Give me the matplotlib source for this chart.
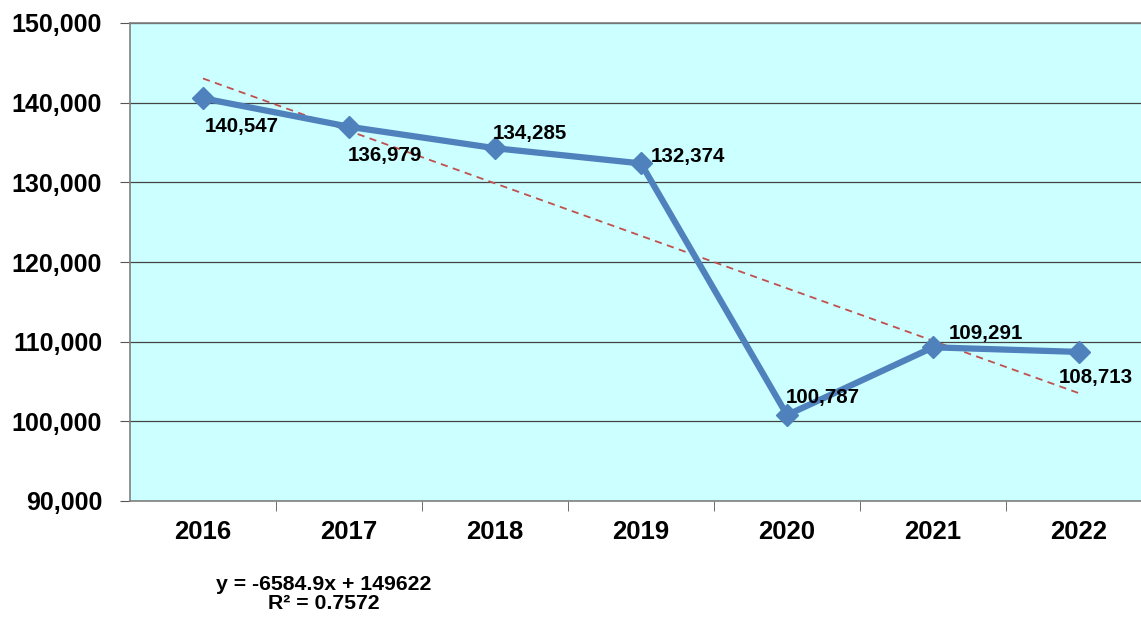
import numpy as np
import matplotlib.pyplot as plt
from matplotlib.ticker import FuncFormatter, FixedLocator

plt.rcParams['font.family'] = ['Liberation Sans', 'DejaVu Sans']

years = ['2016', '2017', '2018', '2019', '2020', '2021', '2022']
values = [140547, 136979, 134285, 132374, 100787, 109291, 108713]
# label offsets in pixels (dx, dy) from each point
label_offsets = [(2, -28), (-1, -29), (-2, 15), (10, 7), (-1, 18), (16, 14), (-20, -26)]
slope = -6584.9
intercept = 149622
r2 = 0.7572

x = np.arange(len(years))

fig = plt.figure(figsize=(11.41, 6.19), dpi=100)
ax = fig.add_axes([130 / 1141, 1 - 501 / 619, 1022 / 1141, (501 - 23) / 619])
ax.set_facecolor('#ccffff')

ax.set_xlim(-0.5, len(years) - 0.5)
ax.set_ylim(90000, 150000)
ax.yaxis.set_major_locator(FixedLocator(np.arange(90000, 150001, 10000)))
ax.yaxis.set_major_formatter(FuncFormatter(lambda v, p: f'{int(v):,}'))
ax.grid(axis='y', color='#444444', linewidth=0.9)
ax.set_axisbelow(True)

# trendline
tx = np.array([0, len(years) - 1])
ty = slope * (tx + 1) + intercept
ax.plot(tx, ty, color='#c0504d', linestyle=(0, (4, 3)), linewidth=1.3, zorder=2)

ax.plot(x, values, color='#4f81bd', linewidth=4.5, marker='D', markersize=11, zorder=3)

for xi, v, (dx, dy) in zip(x, values, label_offsets):
    ax.annotate(f'{v:,}', (xi, v), xytext=(dx, dy), textcoords='offset pixels',
                ha='left', va='center', fontsize=14.8, fontweight='bold', zorder=4)

ax.set_xticks(x)
ax.set_xticklabels(years, fontsize=18.5, fontweight='bold')
ax.set_xticks(np.arange(0.5, len(years) - 0.5, 1), minor=True)
ax.tick_params(axis='x', which='major', length=0, pad=14)
ax.tick_params(axis='x', which='minor', length=7, color='#555555')
ax.tick_params(axis='y', length=7, color='#555555', labelsize=18, pad=13)
for lab in ax.get_yticklabels():
    lab.set_fontweight('bold')

for s in ['left', 'top', 'bottom']:
    ax.spines[s].set_color('#808080')
    ax.spines[s].set_linewidth(1.2)
ax.spines['right'].set_visible(False)

fig.text(324 / 1141, 1 - 594 / 619, f'y = {slope}x + {intercept}\nR² = {r2}',
         ha='center', va='center', fontsize=15.3, fontweight='bold', linespacing=1.05)

fig.savefig('out.png', dpi=100)
